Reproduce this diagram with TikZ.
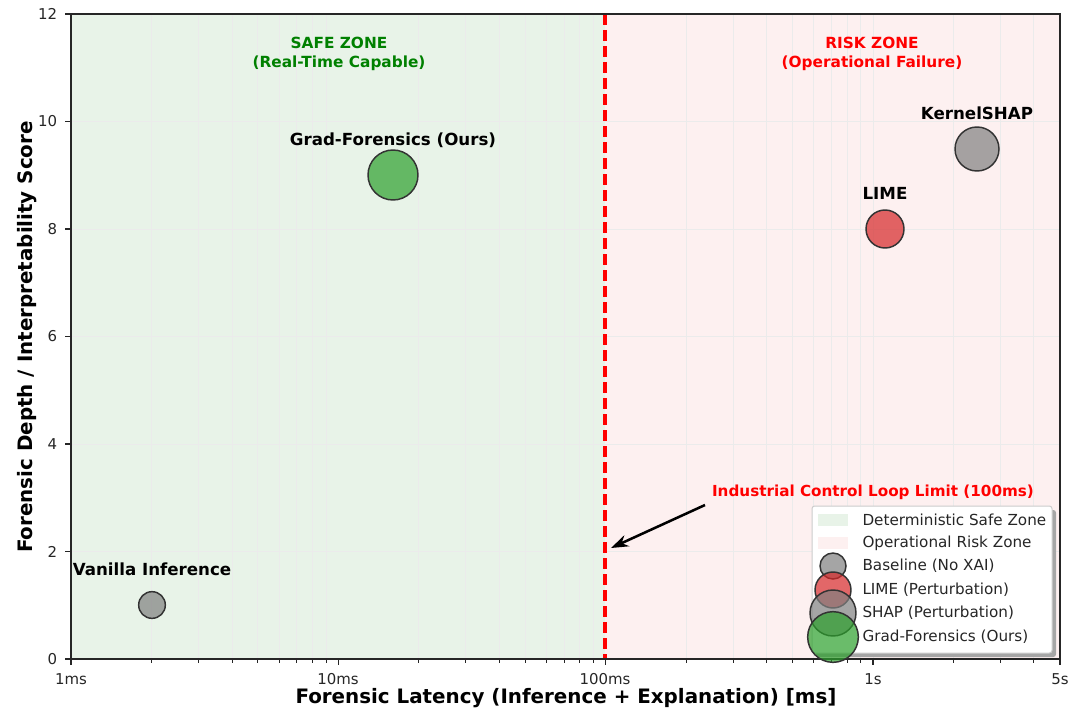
\documentclass[tikz,border=0pt]{standalone}
\usepackage{fontspec}
\setmainfont{DejaVu Sans}
\usetikzlibrary{arrows.meta}

\definecolor{safeBg}{RGB}{232,243,232}
\definecolor{riskBg}{RGB}{253,240,240}
\definecolor{baseGray}{RGB}{128,128,128}
\definecolor{limeRed}{RGB}{214,39,40}
\definecolor{oursGreen}{RGB}{44,160,44}
\definecolor{safeText}{RGB}{0,128,0}

\tikzset{every picture/.style={line width=0.75pt}}
\tikzset{
	grid line/.style={draw=black!8, line width=0.6pt},
	tick label/.style={font=\fontsize{11.2}{13}\selectfont, text=black!85},
	point/.style={circle, draw=black!80, line width=1.1pt, fill opacity=0.7, inner sep=0pt},
	point label/.style={font=\bfseries\fontsize{12.5}{14}\selectfont},
	zone label/.style={font=\bfseries\fontsize{11.5}{13.8}\selectfont, align=center},
	axis label/.style={font=\bfseries\fontsize{14.9}{17}\selectfont},
	legend text/.style={font=\fontsize{11.4}{13}\selectfont, anchor=west, inner sep=0pt, text=black!85}}

\begin{document}
\begin{tikzpicture}[x=0.75pt,y=0.75pt,yscale=-1,xscale=1]
	\useasboundingbox (0,0) rectangle (1081,710);

	%Shape: Rectangle [safe zone]
	\fill [safeBg] (71,14) rectangle (605,659);
	%Shape: Rectangle [risk zone]
	\fill [riskBg] (605,14) rectangle (1060,659);

	% grid
	\foreach \k in {1,...,5} \draw [grid line] (71,{659-107.5*\k}) -- (1060,{659-107.5*\k});
	\foreach \d in {0,1,2} {
		\foreach \k in {2,...,9} \draw [grid line] ({71+267.3*(\d+log10(\k))},14) -- ++(0,645);
	}
	\foreach \k in {1,...,4} \draw [grid line] ({71+267.3*(3+log10(\k))},14) -- ++(0,645);

	%Straight Lines [limit]
	\draw [red, line width=2.3pt, dash pattern={on 8pt off 4pt}] (605,14) -- (605,659);

	%Shape: Axis frame
	\draw [black!85, line width=0.9pt] (71,14) rectangle (1060,659);

	% ticks
	\foreach \k in {0,...,6} \draw [black!85, line width=0.9pt] (65,{659-107.5*\k}) -- (71,{659-107.5*\k});
	\foreach \d in {0,1,2,3} \draw [black!85, line width=0.9pt] ({71+267.3*\d},659) -- ++(0,6);
	\draw [black!85, line width=0.9pt] (1060,659) -- ++(0,6);
	\foreach \d in {0,1,2} {
		\foreach \k in {2,...,9} \draw [black!85, line width=0.6pt] ({71+267.3*(\d+log10(\k))},659) -- ++(0,3.5);
	}
	\foreach \k in {2,...,4} \draw [black!85, line width=0.6pt] ({71+267.3*(3+log10(\k))},659) -- ++(0,3.5);

	% Text Node
	\foreach \v/\k in {0/0,2/1,4/2,6/3,8/4,10/5,12/6}
		\node (ytick\v) [tick label, anchor=east] at (62,{659-107.5*\k}) {\v};
	% Text Node
	\node (xtick1) [tick label] at (71,679) {1ms};
	\node (xtick2) [tick label] at (338,679) {10ms};
	\node (xtick3) [tick label] at (605,679) {100ms};
	\node (xtick4) [tick label] at (873,679) {1s};
	\node (xtick5) [tick label] at (1060,679) {5s};

	% Text Node
	\node (xlabel) [axis label] at (566,698) {Forensic Latency (Inference + Explanation) [ms]};
	% Text Node
	\node (ylabel) [axis label, rotate=90] at (27,337) {Forensic Depth / Interpretability Score};

	% Text Node
	\node (safeZone) [zone label, text=safeText] at (339,54) {SAFE ZONE\\(Real-Time Capable)};
	% Text Node
	\node (riskZone) [zone label, text=red] at (872,54) {RISK ZONE\\(Operational Failure)};

	%Shape: Circle [points]
	\node (vanilla) [point, fill=baseGray, minimum size=20pt] at (152,605) {};
	\node (grad) [point, fill=oursGreen, minimum size=37.5pt] at (393,175) {};
	\node (lime) [point, fill=limeRed, minimum size=28.5pt] at (885,229) {};
	\node (kshap) [point, fill=baseGray, minimum size=33pt] at (977,149) {};

	% Text Node
	\node (vanillaLbl) [point label] at (152,569) {Vanilla Inference};
	\node (gradLbl) [point label] at (393,140) {Grad-Forensics (Ours)};
	\node (limeLbl) [point label] at (885,193) {LIME};
	\node (kshapLbl) [point label] at (977,113) {KernelSHAP};

	% Text Node
	\node (limitLbl) [point label, text=red, font=\bfseries\fontsize{11.4}{13}\selectfont] at (873,492) {Industrial Control Loop Limit (100ms)};
	\coordinate (arrowTail) at (705,505);
	\coordinate (arrowTip) at (611,548);
	\draw [line width=1.9pt, -{Stealth[length=13pt,width=9pt]}] (arrowTail) -- (arrowTip);

	%Shape: Legend box
	\fill [black!35, rounded corners=2pt] (816,510) rectangle (1056,657);
	\draw [fill=white, draw=black!20, rounded corners=2pt] (812,506) rectangle (1052,653);
	\fill [safeBg] (818,514) rectangle (848,526);
	\fill [riskBg] (818,537) rectangle (848,549);
	\node (lgBase) [point, fill=baseGray, minimum size=19.5pt] at (833,566) {};
	\node (lgLime) [point, fill=limeRed, minimum size=27pt] at (833,590) {};
	\node (lgShap) [point, fill=baseGray, minimum size=34.5pt] at (833,613) {};
	\node (lgGrad) [point, fill=oursGreen, minimum size=38pt] at (833,637) {};
	\node (lgText1) [legend text] at (862,520) {Deterministic Safe Zone};
	\node (lgText2) [legend text] at (862,543) {Operational Risk Zone};
	\node (lgText3) [legend text] at (862,566) {Baseline (No XAI)};
	\node (lgText4) [legend text] at (862,590) {LIME (Perturbation)};
	\node (lgText5) [legend text] at (862,613) {SHAP (Perturbation)};
	\node (lgText6) [legend text] at (862,637) {Grad-Forensics (Ours)};

\end{tikzpicture}
\end{document}
